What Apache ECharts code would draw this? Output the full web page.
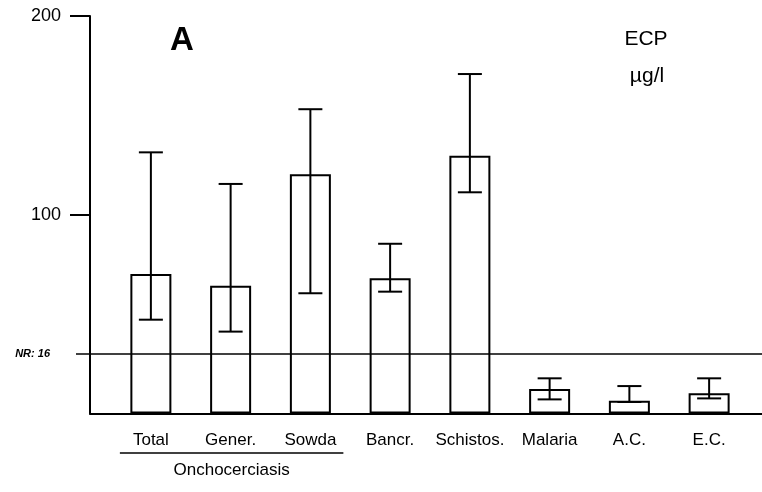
<!DOCTYPE html>
<html>
<head>
<meta charset="utf-8">
<script src="https://cdn.jsdelivr.net/npm/echarts@6/dist/echarts.min.js"></script>
<style>
html,body{margin:0;padding:0;background:#fff;}
#chart{width:762px;height:492px;}
</style>
</head>
<body>
<div id="chart"></div>
<script>
const categories = ['Total', 'Gener.', 'Sowda', 'Bancr.', 'Schistos.', 'Malaria', 'A.C.', 'E.C.'];
const means = [70.2, 64.3, 120.4, 68.0, 129.7, 12.3, 6.4, 10.2];
const errHigh = [131.4, 115.5, 153.1, 85.4, 170.8, 17.7, 13.8, 17.7];
const errLow = [47.2, 41.2, 60.5, 61.3, 111.3, 7.1, 5.8, 7.6];
const yTicks = [100, 200];
const nrLevel = 30;
const nrLabel = 'NR: 16';
const groupLabel = 'Onchocerciasis';
const groupMembers = ['Total', 'Sowda'];

const FONT = '"Liberation Sans", Arial, Helvetica, sans-serif';
const chart = echarts.init(document.getElementById('chart'), null, {renderer: 'canvas'});

const gridTop = 16, gridBottom = 78.5;
const errData = categories.map((c, i) => [i, errLow[i], errHigh[i]]);

const option = {
  animation: false,
  backgroundColor: '#fff',
  grid: [
    {left: 90, right: 0, top: gridTop, bottom: gridBottom},
    {left: 76, right: 0, top: gridTop, bottom: gridBottom},
    {left: 111, right: 13, top: gridTop, bottom: gridBottom}
  ],
  xAxis: [
    {gridIndex: 0, type: 'value', min: 0, max: 1,
     axisLine: {show: true, onZero: false, lineStyle: {color: '#000', width: 2}},
     axisTick: {show: false}, axisLabel: {show: false}, splitLine: {show: false}},
    {gridIndex: 1, type: 'value', min: 0, max: 1, show: false},
    {gridIndex: 2, type: 'category', data: categories,
     axisLine: {show: false}, axisTick: {show: false}, splitLine: {show: false},
     axisLabel: {color: '#000', fontFamily: FONT, fontSize: 17, margin: 18, interval: 0}}
  ],
  yAxis: [
    {gridIndex: 0, type: 'value', min: 0, max: 200,
     axisLine: {show: true, lineStyle: {color: '#000', width: 2}},
     axisTick: {show: true, length: 20, customValues: yTicks, lineStyle: {color: '#000', width: 2}},
     axisLabel: {show: true, customValues: yTicks, color: '#000', fontFamily: FONT, fontSize: 18, margin: 29},
     splitLine: {show: false}},
    {gridIndex: 1, type: 'value', min: 0, max: 200, show: false},
    {gridIndex: 2, type: 'value', min: 0, max: 200, show: false}
  ],
  series: [
    {
      type: 'line', xAxisIndex: 1, yAxisIndex: 1, data: [], silent: true,
      markLine: {
        silent: true, symbol: 'none',
        lineStyle: {color: '#000', width: 1.5, type: 'solid'},
        label: {show: true, position: 'start', distance: 26, formatter: nrLabel,
                color: '#000', fontFamily: FONT, fontSize: 11, fontStyle: 'italic', fontWeight: 'bold'},
        data: [{yAxis: nrLevel}]
      }
    },
    {
      type: 'bar', xAxisIndex: 2, yAxisIndex: 2, data: means, barWidth: 41, silent: true,
      itemStyle: {color: 'rgba(0,0,0,0)', borderColor: '#000', borderWidth: 2}
    },
    {
      type: 'custom', xAxisIndex: 2, yAxisIndex: 2, data: errData, silent: true, z: 5,
      renderItem: function (params, api) {
        const x = api.value(0);
        const lo = api.coord([x, api.value(1)]);
        const hi = api.coord([x, api.value(2)]);
        const cap = 12;
        const st = {stroke: '#000', lineWidth: 2};
        return {
          type: 'group',
          children: [
            {type: 'line', shape: {x1: hi[0], y1: hi[1], x2: lo[0], y2: lo[1]}, style: st},
            {type: 'line', shape: {x1: hi[0] - cap, y1: hi[1], x2: hi[0] + cap, y2: hi[1]}, style: st},
            {type: 'line', shape: {x1: lo[0] - cap, y1: lo[1], x2: lo[0] + cap, y2: lo[1]}, style: st}
          ]
        };
      }
    }
  ]
};
chart.setOption(option);

// group bracket under the onchocerciasis categories
const p0 = chart.convertToPixel({xAxisIndex: 2, yAxisIndex: 2}, [groupMembers[0], 0]);
const p1 = chart.convertToPixel({xAxisIndex: 2, yAxisIndex: 2}, [groupMembers[1], 0]);
const xl = p0[0] - 31, xr = p1[0] + 33;
chart.setOption({
  graphic: [
    {type: 'text', x: 182, y: 41, style: {text: 'A', font: 'bold 33px ' + FONT, fill: '#000', textAlign: 'center', textVerticalAlign: 'middle'}},
    {type: 'text', x: 646, y: 39, style: {text: 'ECP', font: '21px ' + FONT, fill: '#000', textAlign: 'center', textVerticalAlign: 'middle'}},
    {type: 'text', x: 647, y: 76, style: {text: 'µg/l', font: '21px ' + FONT, fill: '#000', textAlign: 'center', textVerticalAlign: 'middle'}},
    {type: 'line', shape: {x1: xl, y1: 453, x2: xr, y2: 453}, style: {stroke: '#000', lineWidth: 1.5}},
    {type: 'text', x: (xl + xr) / 2, y: 470, style: {text: groupLabel, font: '17px ' + FONT, fill: '#000', textAlign: 'center', textVerticalAlign: 'middle'}}
  ]
});
</script>
</body>
</html>
